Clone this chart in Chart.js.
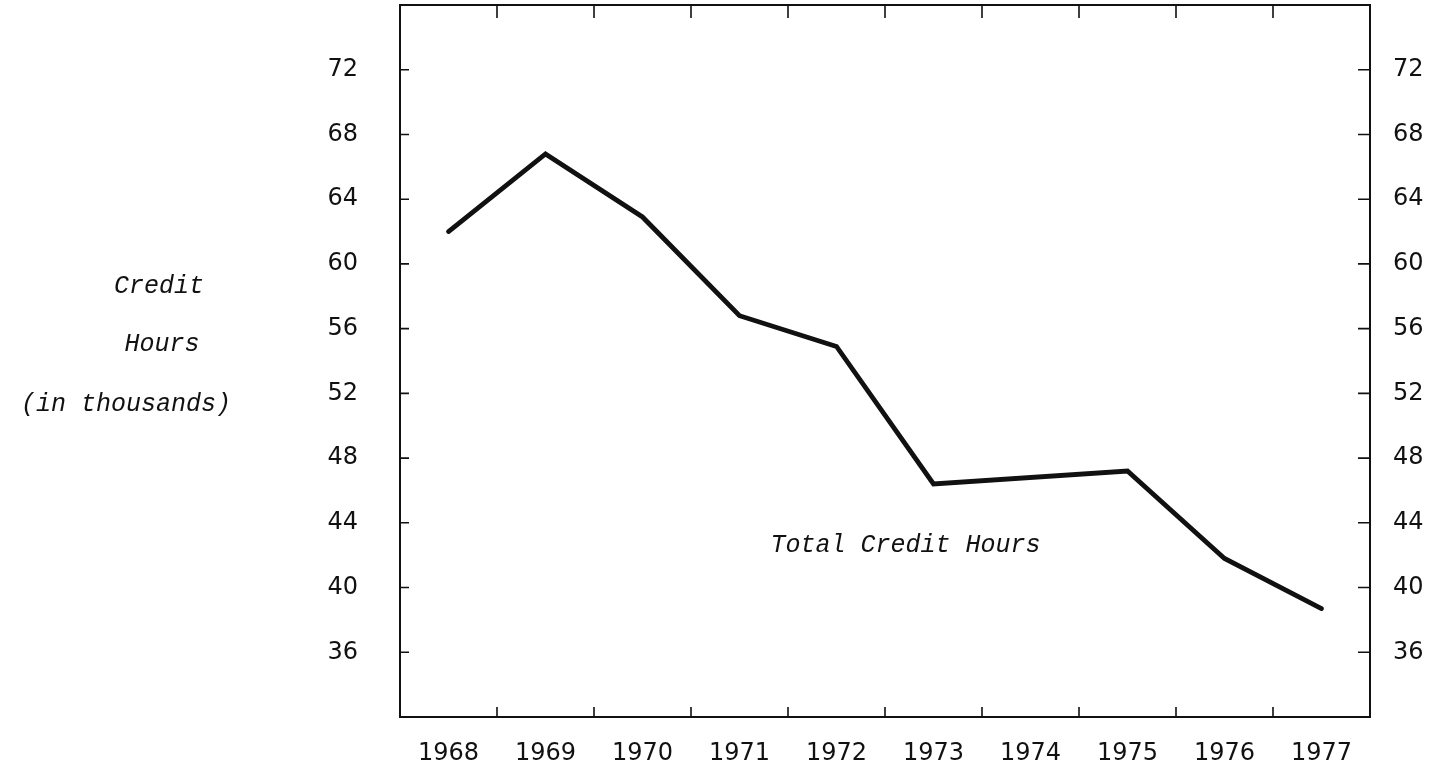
<!DOCTYPE html>
<html>
<head>
<meta charset="utf-8">
<script src="https://cdn.jsdelivr.net/npm/chart.js@4/dist/chart.umd.min.js"></script>
<style>
html,body{margin:0;padding:0;background:#fff;overflow:hidden;}
#wrap{position:relative;width:1440px;height:761px;}
</style>
</head>
<body>
<div id="wrap"><canvas id="c"></canvas></div>
<script>
const years = ['1968','1969','1970','1971','1972','1973','1974','1975','1976','1977'];
const creditHours = [62.0, 66.8, 62.9, 56.8, 54.9, 46.4, null, 47.2, 41.8, 38.7];
const yTickValues = [36, 40, 44, 48, 52, 56, 60, 64, 68, 72];
const yTitleLines = ['Credit', 'Hours', '(in thousands)'];
const seriesLabel = 'Total Credit Hours';

const INK = '#111';
const tickFont = {family: 'DejaVu Sans', size: 24};
const typeFont = 'italic 25px "Liberation Mono"';

const framePlugin = {
  id: 'frame',
  afterDatasetsDraw(chart) {
    const {ctx, chartArea: a, scales} = chart;
    const x = scales.x, y = scales.y;
    ctx.save();
    ctx.strokeStyle = INK;
    ctx.lineWidth = 2;
    ctx.strokeRect(a.left, a.top, a.right - a.left, a.bottom - a.top);
    ctx.lineWidth = 1.6;
    ctx.beginPath();
    for (let i = 0; i < years.length - 1; i++) {
      const px = (x.getPixelForValue(i) + x.getPixelForValue(i + 1)) / 2;
      ctx.moveTo(px, a.bottom); ctx.lineTo(px, a.bottom - 10);
      ctx.moveTo(px, a.top); ctx.lineTo(px, a.top + 13);
    }
    yTickValues.forEach(v => {
      const py = y.getPixelForValue(v);
      ctx.moveTo(a.left, py); ctx.lineTo(a.left + 9, py);
      ctx.moveTo(a.right, py); ctx.lineTo(a.right - 12, py);
    });
    ctx.stroke();
    ctx.fillStyle = INK;
    ctx.font = typeFont;
    ctx.textBaseline = 'middle';
    ctx.textAlign = 'center';
    ctx.fillText(seriesLabel, x.getPixelForValue(5) - 28, y.getPixelForValue(42.6));
    const titleX = [159, 162, 126];
    const titleV = [58.6, 55.0, 51.3];
    yTitleLines.forEach((t, i) => ctx.fillText(t, titleX[i], y.getPixelForValue(titleV[i])));
    ctx.restore();
  }
};

function noPad(s) { s.paddingTop = 0; s.paddingBottom = 0; }

new Chart(document.getElementById('c'), {
  type: 'line',
  data: {
    labels: years,
    datasets: [{
      label: seriesLabel,
      data: creditHours,
      borderColor: INK,
      borderWidth: 4.8,
      pointRadius: 0,
      tension: 0,
      spanGaps: true,
      borderJoinStyle: 'miter',
      borderCapStyle: 'round'
    }]
  },
  options: {
    responsive: true,
    maintainAspectRatio: false,
    animation: false,
    layout: {padding: {top: 5, left: 0, right: 0, bottom: 0}},
    plugins: {legend: {display: false}, tooltip: {enabled: false}},
    scales: {
      x: {
        type: 'category',
        offset: true,
        grid: {display: false, offset: true},
        border: {display: false},
        ticks: {color: INK, font: tickFont, padding: 14, maxRotation: 0},
        afterFit(s) { s.height = 44; s.paddingLeft = 0; s.paddingRight = 0; }
      },
      y: {
        position: 'left',
        min: 32, max: 76,
        grid: {display: false, drawTicks: false},
        border: {display: false},
        ticks: {color: INK, font: tickFont, padding: 42},
        afterBuildTicks(s) { s.ticks = yTickValues.map(v => ({value: v})); },
        afterFit(s) { s.width = 400; noPad(s); }
      },
      y2: {
        position: 'right',
        min: 32, max: 76,
        grid: {display: false, drawTicks: false},
        border: {display: false},
        ticks: {color: INK, font: tickFont, padding: 23},
        afterBuildTicks(s) { s.ticks = yTickValues.map(v => ({value: v})); },
        afterFit(s) { s.width = 70; noPad(s); }
      }
    }
  },
  plugins: [framePlugin]
});
</script>
</body>
</html>
